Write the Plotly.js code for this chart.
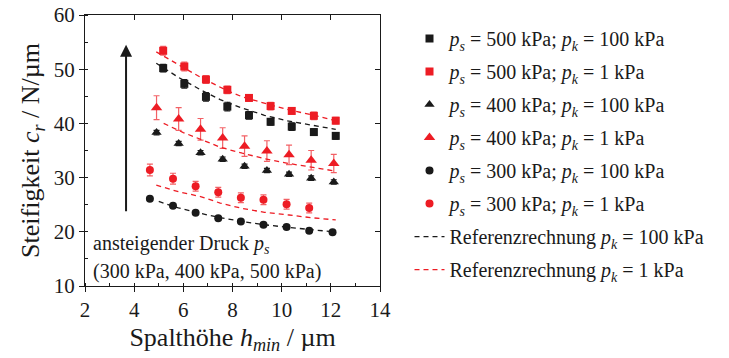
<!DOCTYPE html>
<html>
<head>
<meta charset="utf-8">
<script src="https://cdn.plot.ly/plotly-3.0.1.min.js"></script>
<style>
html,body{margin:0;padding:0;background:#fff;}
#chart{width:729px;height:358px;}
</style>
</head>
<body>
<div id="chart"></div>
<script>
// gap heights (µm)
const hSquare = [5.18, 6.04, 6.92, 7.79, 8.67, 9.55, 10.41, 11.31, 12.2];
const hTriangle = [4.91, 5.81, 6.70, 7.60, 8.49, 9.40, 10.30, 11.20, 12.12];
const hCircle = [4.64, 5.58, 6.50, 7.42, 8.34, 9.26, 10.20, 11.12, 12.07];

// measured stiffness (N/µm)
const c500_100 = [50.2, 47.3, 44.9, 43.1, 41.5, 40.3, 39.4, 38.4, 37.7];
const e500_100 = [0.7, 0.8, 0.8, 0.8, 0.7, 0.6, 0.7, 0.6, 0.6];
const c500_1 = [53.4, 50.5, 48.1, 46.2, 44.7, 43.2, 42.3, 41.4, 40.5];
const e500_1 = [0.8, 0.8, 0.7, 0.7, 0.6, 0.7, 0.6, 0.7, 0.6];
const c400_100 = [38.3, 36.3, 34.6, 33.4, 32.1, 31.3, 30.6, 29.9, 29.2];
const e400_100 = [0.4, 0.4, 0.4, 0.4, 0.4, 0.4, 0.4, 0.4, 0.4];
const c400_1 = [42.9, 40.8, 38.9, 37.3, 35.8, 34.9, 34.2, 33.2, 32.6];
const e400_1 = [2.2, 2.1, 2.0, 1.9, 1.9, 1.9, 1.8, 1.8, 1.7];
const c300_100 = [26.1, 24.8, 23.5, 22.5, 21.9, 21.3, 20.9, 20.2, 19.9];
const e300_100 = [0.3, 0.3, 0.3, 0.3, 0.3, 0.3, 0.3, 0.3, 0.3];
const hCircleRed = [4.64, 5.58, 6.50, 7.42, 8.34, 9.26, 10.20, 11.12];
const c300_1 = [31.4, 29.8, 28.4, 27.3, 26.3, 25.9, 25.1, 24.4];
const e300_1 = [1.1, 1.0, 0.9, 0.9, 0.9, 0.9, 0.9, 0.9];

// reference calculations
const hRef500_100 = [4.9, 5.8, 6.7, 7.5, 8.4, 9.3, 10.2, 11.2, 12.2];
const ref500_100 = [51.1, 48.5, 46.2, 44.4, 42.8, 41.5, 40.5, 39.7, 38.9];
const hRef500_1 = [4.9, 6.0, 6.7, 7.8, 8.4, 9.4, 10.3, 11.3, 12.2];
const ref500_1 = [53.2, 50.3, 48.5, 46.0, 44.9, 43.6, 42.5, 41.5, 40.5];
const hRef400_1 = [5.2, 6.0, 6.8, 7.5, 8.4, 9.3, 10.3, 11.2, 12.2];
const ref400_1 = [40.0, 38.3, 36.9, 35.6, 34.5, 33.5, 32.6, 31.9, 31.2];
const hRef300_1 = [4.9, 5.8, 6.7, 7.5, 8.4, 9.3, 10.3, 11.2, 12.2];
const ref300_1 = [28.6, 27.4, 26.5, 25.3, 24.3, 23.6, 23.1, 22.6, 22.2];
const hRef300_100 = [5.0, 5.8, 6.7, 7.5, 8.4, 9.3, 10.3, 11.2, 12.1];
const ref300_100 = [25.6, 24.4, 23.4, 22.6, 21.9, 21.3, 20.8, 20.4, 20.0];

const legendNames = [
  '<i>p</i><sub><i>s</i></sub> = 500 kPa; <i>p</i><sub><i>k</i></sub> = 100 kPa',
  '<i>p</i><sub><i>s</i></sub> = 500 kPa; <i>p</i><sub><i>k</i></sub> = 1 kPa',
  '<i>p</i><sub><i>s</i></sub> = 400 kPa; <i>p</i><sub><i>k</i></sub> = 100 kPa',
  '<i>p</i><sub><i>s</i></sub> = 400 kPa; <i>p</i><sub><i>k</i></sub> = 1 kPa',
  '<i>p</i><sub><i>s</i></sub> = 300 kPa; <i>p</i><sub><i>k</i></sub> = 100 kPa',
  '<i>p</i><sub><i>s</i></sub> = 300 kPa; <i>p</i><sub><i>k</i></sub> = 1 kPa',
  'Referenzrechnung <i>p</i><sub><i>k</i></sub> = 100 kPa',
  'Referenzrechnung <i>p</i><sub><i>k</i></sub> = 1 kPa'
];

const BLACK = '#1a1a1a';
const RED = '#ed1c24';
const REDERR = 'rgba(237,28,36,0.7)';
const DASH = '5px,4px';

function refLine(x, y, color, name, rank, show) {
  return {x: x, y: y, type: 'scatter', mode: 'lines', name: name,
    line: {color: color, width: 1.3, dash: DASH},
    showlegend: show, legendrank: rank, legendgroup: 'g' + rank, hoverinfo: 'skip'};
}
function pts(x, y, e, color, ecolor, symbol, size, name, rank) {
  return {x: x, y: y, type: 'scatter', mode: 'markers', name: name,
    marker: {color: color, symbol: symbol, size: size},
    error_y: {type: 'data', array: e, visible: true, color: ecolor, thickness: 1.2, width: 3},
    legendrank: rank, legendgroup: 'g' + rank};
}

const data = [
  refLine(hRef500_100, ref500_100, BLACK, legendNames[6], 7, true),
  refLine(hRef500_1, ref500_1, RED, legendNames[7], 8, true),
  refLine(hRef400_1, ref400_1, RED, '', 9, false),
  refLine(hRef300_1, ref300_1, RED, '', 10, false),
  refLine(hRef300_100, ref300_100, BLACK, '', 11, false),
  pts(hSquare, c500_100, e500_100, BLACK, BLACK, 'square', 8, legendNames[0], 1),
  pts(hSquare, c500_1, e500_1, RED, REDERR, 'square', 8, legendNames[1], 2),
  pts(hTriangle, c400_100, e400_100, BLACK, BLACK, 'triangle-up', 9, legendNames[2], 3),
  pts(hTriangle, c400_1, e400_1, RED, REDERR, 'triangle-up', 10, legendNames[3], 4),
  pts(hCircle, c300_100, e300_100, BLACK, BLACK, 'circle', 8, legendNames[4], 5),
  pts(hCircleRed, c300_1, e300_1, RED, REDERR, 'circle', 8, legendNames[5], 6),
  {x: [], y: [], xaxis: 'x2', yaxis: 'y2', type: 'scatter', mode: 'markers', showlegend: false, hoverinfo: 'skip'}
];

const FONT = 'Liberation Serif';

const layout = {
  width: 729, height: 358,
  margin: {l: 85, r: 349, t: 15, b: 72},
  paper_bgcolor: '#fff', plot_bgcolor: '#fff',
  font: {family: FONT, color: BLACK, size: 18},
  showlegend: true,
  legend: {x: 1.1, y: 0.985, xanchor: 'left', yanchor: 'top',
    font: {family: FONT, size: 20, color: BLACK},
    tracegroupgap: 4, bgcolor: 'rgba(0,0,0,0)', traceorder: 'grouped'},
  xaxis: {range: [2, 14], tickvals: [2, 4, 6, 8, 10, 12, 14], ticks: 'outside', ticklen: 5,
    tickcolor: BLACK, showline: true, linecolor: BLACK, linewidth: 1, mirror: true,
    showgrid: false, zeroline: false, tickfont: {family: FONT, size: 21, color: BLACK},
    minor: {dtick: 1, tick0: 2, ticks: 'inside', ticklen: 3, tickcolor: BLACK, showgrid: false},
    title: {text: 'Spalthöhe <i>h</i><sub><i>min</i></sub> / µm', font: {family: FONT, size: 26, color: BLACK}, standoff: 6}},
  yaxis: {range: [10, 60], tickvals: [10, 20, 30, 40, 50, 60], ticks: 'outside', ticklen: 5,
    tickcolor: BLACK, showline: true, linecolor: BLACK, linewidth: 1, mirror: true,
    showgrid: false, zeroline: false, tickfont: {family: FONT, size: 21, color: BLACK},
    minor: {dtick: 5, tick0: 10, ticks: 'inside', ticklen: 3, tickcolor: BLACK, showgrid: false},
    title: {text: 'Steifigkeit <i>c</i><sub><i>r</i></sub> / N/µm', font: {family: FONT, size: 26, color: BLACK}, standoff: 6}},
  xaxis2: {range: [2, 14], overlaying: 'x', side: 'top', anchor: 'y2', tickvals: [2, 4, 6, 8, 10, 12, 14],
    ticks: 'inside', ticklen: 5, tickcolor: BLACK, showticklabels: false, showline: false, showgrid: false, zeroline: false},
  yaxis2: {range: [10, 60], overlaying: 'y', side: 'right', anchor: 'x2', tickvals: [10, 20, 30, 40, 50, 60],
    ticks: 'inside', ticklen: 5, tickcolor: BLACK, showticklabels: false, showline: false, showgrid: false, zeroline: false},
  annotations: [
    {x: 3.67, y: 54.5, ax: 3.67, ay: 23.5, xref: 'x', yref: 'y', axref: 'x', ayref: 'y',
     text: '', showarrow: true, arrowhead: 2, arrowsize: 1.2, arrowwidth: 2, arrowcolor: BLACK},
    {x: 2.24, y: 17.75, xref: 'x', yref: 'y', xanchor: 'left', yanchor: 'middle', showarrow: false,
     text: 'ansteigender Druck <i>p</i><sub><i>s</i></sub>', font: {family: FONT, size: 20, color: BLACK}},
    {x: 2.24, y: 12.6, xref: 'x', yref: 'y', xanchor: 'left', yanchor: 'middle', showarrow: false,
     text: '(300 kPa, 400 kPa, 500 kPa)', font: {family: FONT, size: 20, color: BLACK}}
  ]
};

Plotly.newPlot('chart', data, layout, {displayModeBar: false, staticPlot: true});
</script>
</body>
</html>
